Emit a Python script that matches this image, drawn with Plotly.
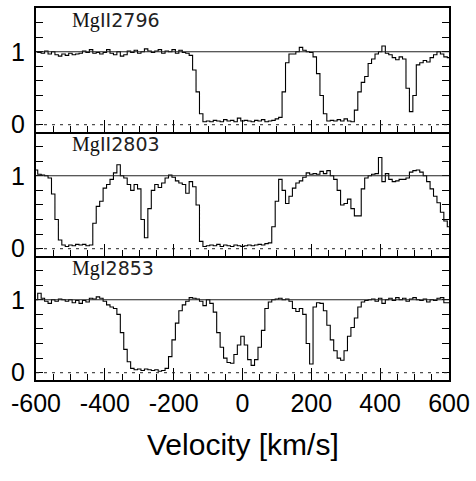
import plotly.graph_objects as go

velocity = list(range(-600, 601, 10))

mgii2796 = [
    1.00, 0.99, 0.98, 1.01, 0.97, 1.00, 0.96, 0.94, 0.97, 0.95,
    0.98, 0.96, 0.97, 0.98, 1.01, 0.99, 1.03, 0.98, 0.99, 0.97,
    0.99, 1.03, 0.98, 0.96, 1.00, 0.94, 0.96, 1.01, 0.99, 1.02,
    0.98, 1.00, 1.04, 1.01, 0.99, 1.01, 1.03, 0.98, 1.01, 1.00,
    1.03, 0.98, 1.02, 0.99, 0.98, 0.95, 0.75, 0.45, 0.15, 0.04,
    0.05, 0.04, 0.06, 0.05, 0.04, 0.07, 0.05, 0.06, 0.04, 0.09,
    0.05, 0.06, 0.05, 0.04, 0.06, 0.05, 0.07, 0.04, 0.05, 0.06,
    0.08, 0.10, 0.45, 0.85, 0.97, 0.97, 1.00, 1.06, 1.02, 1.00,
    0.99, 0.93, 0.70, 0.40, 0.15, 0.05, 0.06, 0.05, 0.07, 0.05,
    0.08, 0.05, 0.04, 0.20, 0.45, 0.58, 0.66, 0.84, 0.90, 0.97,
    1.00, 1.08, 0.98, 0.96, 0.92, 0.89, 0.93, 0.90, 0.50, 0.18,
    0.40, 0.82, 0.85, 0.88, 0.86, 0.92, 0.96, 1.00, 0.97, 0.93,
    0.92,
]

mgii2803 = [
    1.08, 1.02, 1.01, 1.00, 0.97, 0.75, 0.40, 0.12, 0.05, 0.03,
    0.05, 0.04, 0.06, 0.05, 0.06, 0.04, 0.05, 0.35, 0.58, 0.65,
    0.83, 0.88, 0.95, 1.04, 1.15, 1.00, 0.97, 0.88, 0.80, 0.88,
    0.82, 0.40, 0.15, 0.55, 0.80, 0.88, 0.84, 0.90, 0.97, 1.01,
    0.98, 0.93, 0.90, 0.88, 0.76, 0.92, 0.85, 0.60, 0.10, 0.03,
    0.04, 0.05, 0.04, 0.06, 0.03, 0.05, 0.04, 0.03, 0.05, 0.04,
    0.03, 0.04, 0.05, 0.04, 0.05, 0.06, 0.05, 0.07, 0.08, 0.30,
    0.65, 0.95, 0.80, 0.62, 0.72, 0.83, 0.90, 0.93, 0.98, 1.04,
    1.02, 1.03, 1.02, 1.06, 1.03, 1.07, 1.00, 0.95, 0.80, 0.60,
    0.62, 0.68, 0.55, 0.45, 0.45, 0.82, 0.97, 1.00, 1.02, 1.03,
    1.25, 0.92, 1.03, 0.95, 0.92, 0.93, 0.95, 0.95, 0.97, 1.05,
    1.07, 1.08, 1.05, 1.00, 0.92, 0.82, 0.72, 0.63, 0.50, 0.38,
    0.30,
]

mgi2853 = [
    1.00, 1.09, 1.02, 0.98, 0.95, 1.00, 0.98, 1.01, 1.00, 0.98,
    1.00, 0.96, 0.99, 0.95, 0.99, 0.97, 1.02, 1.01, 1.04, 1.02,
    0.98, 0.93, 0.90, 0.88, 0.80, 0.55, 0.32, 0.15, 0.06, 0.04,
    0.05, 0.03, 0.05, 0.04, 0.03, 0.04, 0.02, 0.03, 0.06, 0.22,
    0.45, 0.68, 0.85, 0.93, 0.98, 1.03, 1.02, 1.01, 0.98, 0.92,
    1.00, 0.95, 0.83, 0.55, 0.35, 0.20, 0.14, 0.13, 0.25, 0.38,
    0.50, 0.38, 0.18, 0.10, 0.18, 0.35, 0.58, 0.88, 0.97, 1.00,
    1.01, 1.02, 1.00, 1.01, 0.98, 0.88, 0.84, 0.88, 0.80, 0.40,
    0.12, 0.90, 0.96, 0.95, 0.85, 0.65, 0.45, 0.30, 0.20, 0.17,
    0.30, 0.50, 0.62, 0.75, 0.90, 0.97, 0.99, 1.00, 1.01, 0.98,
    1.02, 0.95, 1.00, 1.02, 0.99, 1.03, 1.00, 1.02, 0.98, 1.01,
    1.03, 1.00, 0.99, 1.01, 0.97, 1.00, 0.99, 1.02, 1.03, 0.96,
    0.96,
]

element_labels = ["Mg", "Mg", "Mg"]
ion_labels = ["II2796", "II2803", "I2853"]
spectra = [mgii2796, mgii2803, mgi2853]
x_ticks = [-600, -400, -200, 0, 200, 400, 600]
x_tick_text = ["-600", "-400", "-200", "0", "200", "400", "600"]
y_ticks = [0, 1]
y_tick_text = ["0", "1"]

fig = go.Figure()
domains = [[2/3, 1], [1/3, 2/3], [0, 1/3]]
tick_font = dict(family="Liberation Sans, Arial", size=25, color="black")
for i, flux in enumerate(spectra):
    n = i + 1
    fig.add_trace(go.Scatter(
        x=velocity, y=flux, mode="lines",
        line=dict(color="black", width=1.1, shape="hvh"),
        xaxis=f"x{n}", yaxis=f"y{n}", showlegend=False, hoverinfo="skip",
    ))
    xa = dict(
        domain=[0, 1], range=[-600, 600], anchor=f"y{n}",
        tickvals=x_ticks, ticktext=x_tick_text,
        ticks="inside", ticklen=12, tickwidth=1.2, tickcolor="black",
        minor=dict(dtick=50, ticks="inside", ticklen=6, tickwidth=1.2, tickcolor="black"),
        showline=True, linecolor="black", linewidth=2, mirror=(n == 1),
        showgrid=False, zeroline=False,
        showticklabels=(n == 3),
        tickfont=tick_font,
    )
    if n != 1:
        xa["matches"] = "x"
    ya = dict(
        domain=domains[i], range=[-0.1, 1.6], anchor=f"x{n}",
        tickvals=y_ticks, ticktext=y_tick_text,
        ticks="inside", ticklen=7, tickwidth=1.2, tickcolor="black",
        minor=dict(dtick=0.2, tick0=0, ticks="inside", ticklen=7, tickwidth=1.2, tickcolor="black"),
        showline=True, linecolor="black", linewidth=2, mirror="ticks",
        showgrid=False, zeroline=False,
        tickfont=tick_font,
        ticklabelstandoff=4,
    )
    fig.layout[f"xaxis{'' if n == 1 else n}"] = xa
    fig.layout[f"yaxis{'' if n == 1 else n}"] = ya
    fig.add_shape(type="line", xref=f"x{n}", yref=f"y{n}", x0=-600, x1=600, y0=1, y1=1,
                  line=dict(color="#222", width=1))
    fig.add_shape(type="line", xref=f"x{n}", yref=f"y{n}", x0=-600, x1=600, y0=0, y1=0,
                  line=dict(color="#222", width=1, dash="3px,5px"))
    fig.add_annotation(
        xref=f"x{n}", yref=f"y{n}", x=-502, y=1.43, xanchor="left", yanchor="middle",
        text=element_labels[i], showarrow=False,
        font=dict(family="Liberation Serif", size=20, color="#111"),
    )
    fig.add_annotation(
        xref=f"x{n}", yref=f"y{n}", x=-419, y=1.43, xanchor="left", yanchor="middle",
        text=ion_labels[i], showarrow=False,
        font=dict(family="DejaVu Sans", size=19, color="#222"),
    )

fig.add_annotation(
    xref="paper", yref="paper", x=0.5, y=-0.174, xanchor="center", yanchor="middle",
    text="Velocity [km/s]", showarrow=False,
    font=dict(family="Liberation Sans, Arial", size=30, color="black"),
)

fig.update_layout(
    width=476, height=481,
    margin=dict(l=36, r=23, t=6, b=101),
    paper_bgcolor="white", plot_bgcolor="white",
)

fig.write_html("out.html", config={"displayModeBar": False},
               post_script="document.body.style.margin='0';")
